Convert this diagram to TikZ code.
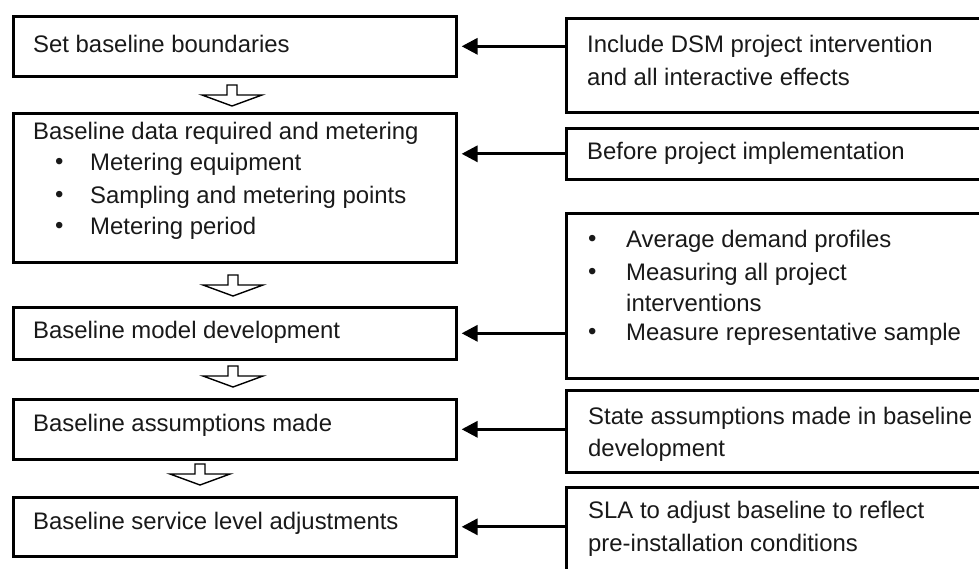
\documentclass[tikz,border=0pt]{standalone}
\usepackage{fontspec}
\setmainfont{Liberation Sans}
\usetikzlibrary{calc,arrows.meta}
\usetikzlibrary{positioning}

\begin{document}
\begin{tikzpicture}[
    x=1pt, y=-1pt,
    box/.style={draw, line width=2.6pt, rectangle, inner sep=0pt, anchor=north west},
    txt/.style={anchor=west, inner sep=0pt, font=\fontsize{23.9}{29}\selectfont, text=black!90},
    conn/.style={draw, line width=3.2pt, -{Triangle[length=16pt, width=16pt]}, shorten >=4pt},
    hollow/.style={draw, line width=1.4pt, fill=white, line join=miter}
]

% FIXED BOUNDING BOX (page size)
\useasboundingbox (0,0) rectangle (979,568);

% left column
\node[box, minimum width=443pt, minimum height=60pt]  (b1) at (12,15)  {};
\node[box, minimum width=443pt, minimum height=149pt] (b2) at (12,112) {};
\node[box, minimum width=443pt, minimum height=52pt]  (b3) at (12,306) {};
\node[box, minimum width=443pt, minimum height=60pt]  (b4) at (12,398) {};
\node[box, minimum width=443pt, minimum height=59pt]  (b5) at (12,496) {};

\node[txt] (t1) at (33,44)  {Set baseline boundaries};
\node[txt] (t2) at (33,133) {Baseline data required and metering};
\node[txt] (t2a) at (90,164) {Metering equipment};
\node[txt] (t2b) at (90,197) {Sampling and metering points};
\node[txt] (t2c) at (90,228) {Metering period};
\foreach \y in {164,197,228}
    \node[txt] at (55,\y) {•};
\node[txt] (t3) at (33,332) {Baseline model development};
\node[txt] (t4) at (33,425) {Baseline assumptions made};
\node[txt] (t5) at (33,523) {Baseline service level adjustments};

% right column (runs off the page on the right)
\node[box, minimum width=440pt, minimum height=94pt]  (r1) at (565,17)  {};
\node[box, minimum width=440pt, minimum height=51pt]  (r2) at (565,127) {};
\node[box, minimum width=440pt, minimum height=165pt] (r3) at (565,212) {};
\node[box, minimum width=440pt, minimum height=82pt]  (r4) at (565,389) {};
\node[box, minimum width=440pt, minimum height=120pt] (r5) at (565,486) {};

\node[txt] (s1a) at (587,46)  {Include DSM project intervention};
\node[txt] (s1b) at (587,77)  {and all interactive effects};
\node[txt] (s2)  at (587,153) {Before project implementation};
\node[txt] (s3a) at (626,241) {Average demand profiles};
\node[txt] (s3b) at (626,274) {Measuring all project};
\node[txt] (s3c) at (626,303) {interventions};
\node[txt] (s3d) at (626,334) {Measure representative sample};
\foreach \y in {241,274,334}
    \node[txt] at (588,\y) {•};
\node[txt] (s4a) at (588,418) {State assumptions made in baseline};
\node[txt] (s4b) at (588,450) {development};
\node[txt] (s5a) at (588,512) {SLA to adjust baseline to reflect};
\node[txt] (s5b) at (588,545) {pre-installation conditions};

% arrows right to left
\path[conn] (r1.west |- b1.east) -- (b1.east);
\path[conn] (r2.west) -- (b2.east |- r2.west);
\path[conn] (r3.west |- b3.east) -- (b3.east);
\path[conn] (r4.west |- b4.east) -- (b4.east);
\path[conn] (r5.west |- b5.east) -- (b5.east);

% hollow down arrows between steps
\foreach \x/\y in {232/85, 233/275, 233/366, 200/464}
    \draw[hollow] (\x,\y) ++(-5,0) -- ++(10,0) -- ++(0,10) -- ++(25,0)
        -- ++(-30,11) -- ++(-30,-11) -- ++(25,0) -- cycle;

\end{tikzpicture}
\end{document}
